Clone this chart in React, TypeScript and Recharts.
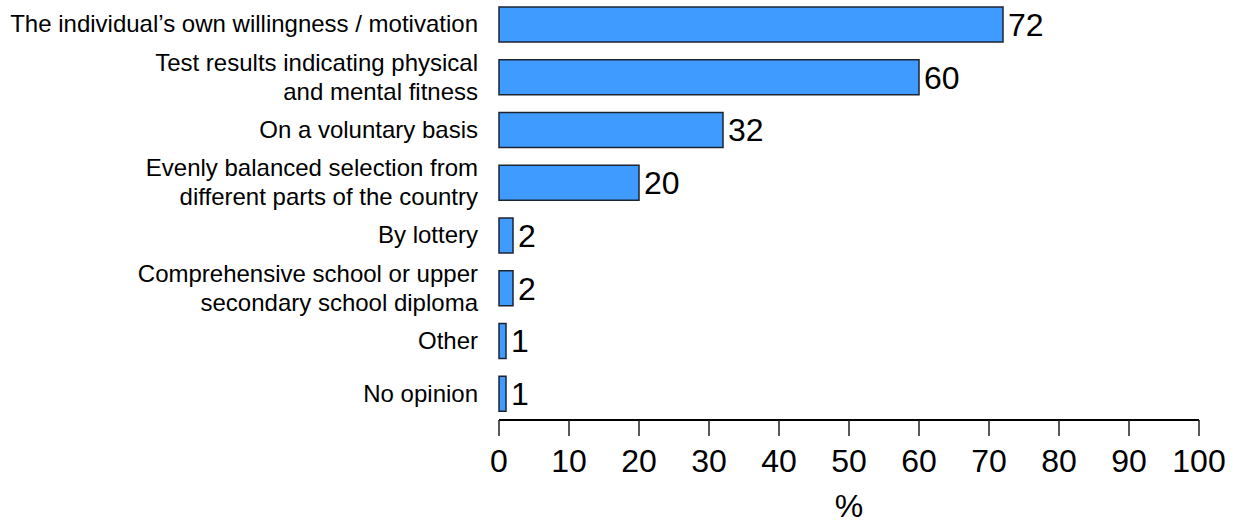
import { BarChart, Bar, XAxis, YAxis, LabelList } from "recharts";

const categories = [
  "The individual\u2019s own willingness / motivation",
  "Test results indicating physical\nand mental fitness",
  "On a voluntary basis",
  "Evenly balanced selection from\ndifferent parts of the country",
  "By lottery",
  "Comprehensive school or upper\nsecondary school diploma",
  "Other",
  "No opinion",
];
const values = [72, 60, 32, 20, 2, 2, 1, 1];
const xTicks = [0, 10, 20, 30, 40, 50, 60, 70, 80, 90, 100];

const data = categories.map((c, i) => ({ category: c, value: values[i] }));

const FONT = "Liberation Sans, Arial, sans-serif";

const CategoryTick = (props: any) => {
  const { x, y, payload } = props;
  const lines = String(payload.value).split("\n");
  const lh = 29;
  const start = -((lines.length - 1) * lh) / 2;
  return (
    <text x={x} y={y} textAnchor="end" fill="#000" fontSize={24} fontFamily={FONT}>
      {lines.map((l, i) => (
        <tspan key={i} x={x} dy={i === 0 ? start + 8 : lh}>
          {l}
        </tspan>
      ))}
    </text>
  );
};

export default function App() {
  return (
    <div style={{ position: "absolute", left: 0, top: -2, background: "#fff" }}>
      <BarChart
        width={1243}
        height={527}
        data={data}
        layout="vertical"
        barCategoryGap="17%"
        margin={{ top: 0, right: 44, bottom: 0, left: 0 }}
      >
        <XAxis
          type="number"
          domain={[0, 100]}
          ticks={xTicks}
          interval={0}
          height={105}
          tickSize={16}
          axisLine={{ stroke: "#000", strokeWidth: 2 }}
          tickLine={{ stroke: "#222", strokeWidth: 1.5 }}
          tick={{ fill: "#000", fontSize: 32, fontFamily: FONT }}
          tickMargin={13}
          label={{
            value: "%",
            position: "insideBottom",
            offset: 8,
            fill: "#000",
            fontSize: 32,
            fontFamily: FONT,
          }}
        />
        <YAxis
          type="category"
          dataKey="category"
          width={499}
          axisLine={false}
          tickLine={false}
          tick={<CategoryTick />}
          tickMargin={15}
          interval={0}
        />
        <Bar
          dataKey="value"
          fill="#3f9bff"
          stroke="#1c2433"
          strokeWidth={1.5}
          isAnimationActive={false}
        >
          <LabelList
            dataKey="value"
            position="right"
            offset={5}
            fill="#000"
            fontSize={32}
            fontFamily={FONT}
          />
        </Bar>
      </BarChart>
    </div>
  );
}
